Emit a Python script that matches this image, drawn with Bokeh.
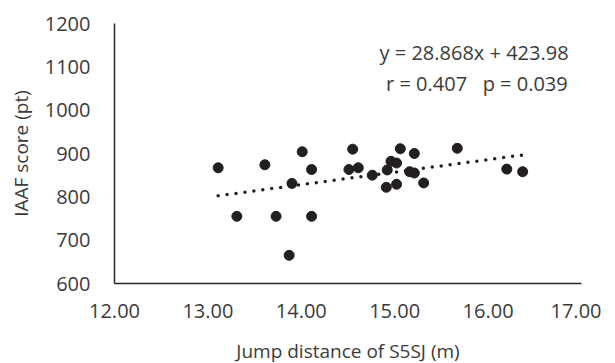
from bokeh.plotting import figure
from bokeh.models import Label, FixedTicker, ColumnDataSource
from bokeh.embed import file_html
from bokeh.resources import INLINE

# Data
jump_m = [13.11, 13.31, 13.61, 13.73, 13.87, 13.90, 14.01, 14.11, 14.11,
          14.51, 14.55, 14.61, 14.76, 14.91, 14.92, 14.96, 15.02, 15.02,
          15.06, 15.16, 15.21, 15.21, 15.31, 15.67, 16.20, 16.37]
score_pt = [867, 755, 874, 755, 665, 831, 904, 863, 755,
            863, 910, 867, 850, 822, 862, 882, 878, 829,
            911, 858, 855, 900, 832, 912, 864, 858]
slope = 28.868
intercept = 423.98
eq_text = "y = 28.868x + 423.98"
stat_text = "r = 0.407\u00a0\u00a0\u00a0p = 0.039"
x_ticks = [12, 13, 14, 15, 16, 17]
y_ticks = [600, 700, 800, 900, 1000, 1100, 1200]

FONT = "Open Sans"
TXT = "#3b3b3b"
DARK = "#231f20"

p = figure(frame_width=467, frame_height=260, x_range=(12, 17), y_range=(600, 1200),
           output_backend="svg", toolbar_location=None,
           min_border_left=114, min_border_top=23, min_border_right=20, min_border_bottom=5)
p.outline_line_color = None
p.xgrid.visible = False
p.ygrid.visible = False
p.background_fill_color = "white"
p.border_fill_color = "white"

for ax in (p.xaxis[0], p.yaxis[0]):
    ax.major_tick_in = 0
    ax.major_tick_out = 0
    ax.minor_tick_in = 0
    ax.minor_tick_out = 0
    ax.axis_line_color = "#262626"
    ax.axis_line_width = 1.5
    ax.major_label_text_font = FONT
    ax.major_label_text_font_size = "20px"
    ax.major_label_text_color = TXT
    ax.axis_label_text_font = FONT
    ax.axis_label_text_font_size = "19px"
    ax.axis_label_text_color = TXT
    ax.axis_label_text_font_style = "normal"

p.xaxis.ticker = FixedTicker(ticks=x_ticks)
p.yaxis.ticker = FixedTicker(ticks=y_ticks)
p.xaxis.major_label_overrides = {t: f"{t:.2f}" for t in x_ticks}
p.xaxis.axis_label = "Jump distance of S5SJ (m)"
p.yaxis.axis_label = "IAAF score (pt)"
p.xaxis.major_label_standoff = 20
p.xaxis.axis_label_standoff = 17
p.yaxis.major_label_standoff = 24
p.yaxis.axis_label_standoff = 8

src = ColumnDataSource(dict(x=jump_m, y=score_pt))
xmin, xmax = min(jump_m), max(jump_m)
p.line([xmin, xmax], [slope * xmin + intercept, slope * xmax + intercept],
       line_color=DARK, line_width=3.5, line_dash="0 9", line_cap="round")
p.scatter("x", "y", source=src, size=10, fill_color=DARK, line_color=DARK)

p.add_layout(Label(x=15.85, y=1133, text=eq_text, text_align="center", text_baseline="middle",
                   text_font=FONT, text_font_size="20px", text_color=TXT))
p.add_layout(Label(x=15.88, y=1062, text=stat_text, text_align="center", text_baseline="middle",
                   text_font=FONT, text_font_size="20px", text_color=TXT))

open("out.html", "w").write(file_html(p, INLINE))
